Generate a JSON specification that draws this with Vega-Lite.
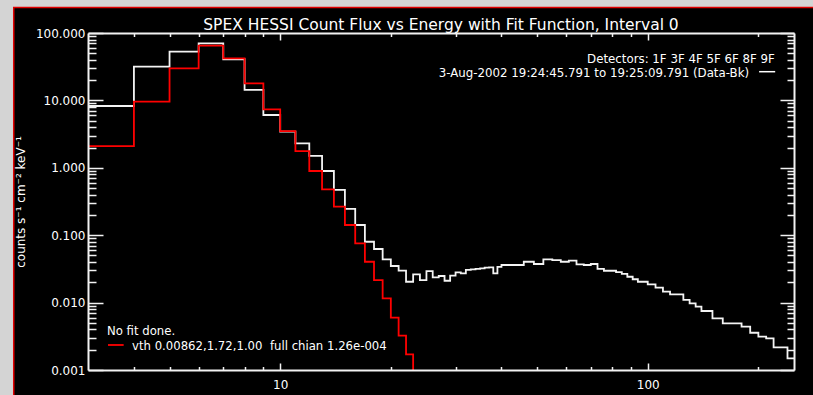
{
  "$schema": "https://vega.github.io/schema/vega-lite/v6.json",
  "width": 706,
  "height": 337,
  "autosize": {"type": "none"},
  "padding": {"left": 88, "top": 33, "right": 19, "bottom": 25},
  "background": "#d4d4d4",
  "config": {
    "view": {"stroke": null, "fill": "#000000"},
    "font": "DejaVu Sans",
    "axis": {
      "grid": false,
      "domainColor": "#f2f2f2",
      "domainWidth": 2,
      "tickColor": "#f2f2f2",
      "tickWidth": 1.5,
      "labelColor": "#ffffff",
      "labelFont": "DejaVu Sans",
      "labelFontSize": 12,
      "titleColor": "#ffffff",
      "titleFont": "DejaVu Sans",
      "titleFontWeight": "normal"
    }
  },
  "title": {
    "text": "SPEX HESSI Count Flux vs Energy with Fit Function, Interval 0",
    "color": "#ffffff",
    "font": "DejaVu Sans",
    "fontSize": 15.5,
    "fontWeight": "normal",
    "frame": "group",
    "anchor": "middle",
    "offset": -26.75,
    "zindex": 1
  },
  "datasets": {
    "counts": [
      {"E": 3, "flux": 8.26}, {"E": 4, "flux": 31.6}, {"E": 5, "flux": 52.8}, {"E": 6, "flux": 70.3},
      {"E": 7, "flux": 40.8}, {"E": 8, "flux": 14.3}, {"E": 9, "flux": 6.07}, {"E": 10, "flux": 3.45},
      {"E": 11, "flux": 2.31}, {"E": 12, "flux": 1.5}, {"E": 13, "flux": 0.896}, {"E": 14, "flux": 0.469},
      {"E": 15, "flux": 0.245}, {"E": 16, "flux": 0.1416}, {"E": 17, "flux": 0.08}, {"E": 18, "flux": 0.0624},
      {"E": 19, "flux": 0.0439}, {"E": 20, "flux": 0.0349}, {"E": 21, "flux": 0.0299}, {"E": 22, "flux": 0.0204},
      {"E": 23, "flux": 0.0263}, {"E": 24, "flux": 0.0216}, {"E": 25, "flux": 0.0294}, {"E": 26, "flux": 0.0237},
      {"E": 27, "flux": 0.0248}, {"E": 28, "flux": 0.0211}, {"E": 29, "flux": 0.0251}, {"E": 30, "flux": 0.0281},
      {"E": 31, "flux": 0.0272}, {"E": 32, "flux": 0.0305}, {"E": 33, "flux": 0.0312}, {"E": 34, "flux": 0.0316},
      {"E": 35, "flux": 0.0323}, {"E": 36, "flux": 0.033}, {"E": 37, "flux": 0.0334}, {"E": 38, "flux": 0.0272},
      {"E": 39, "flux": 0.034}, {"E": 40, "flux": 0.0361}, {"E": 43, "flux": 0.0361}, {"E": 46, "flux": 0.0404},
      {"E": 49, "flux": 0.0374}, {"E": 52, "flux": 0.0439}, {"E": 55, "flux": 0.0428}, {"E": 58, "flux": 0.0404},
      {"E": 61, "flux": 0.0419}, {"E": 64, "flux": 0.037}, {"E": 67, "flux": 0.0361}, {"E": 70, "flux": 0.0374},
      {"E": 73, "flux": 0.0316}, {"E": 76, "flux": 0.0297}, {"E": 79, "flux": 0.0297}, {"E": 82, "flux": 0.0284},
      {"E": 85, "flux": 0.0266}, {"E": 88, "flux": 0.0242}, {"E": 91, "flux": 0.0222}, {"E": 94, "flux": 0.0204},
      {"E": 97, "flux": 0.0204}, {"E": 100, "flux": 0.0187}, {"E": 105, "flux": 0.01665}, {"E": 110, "flux": 0.01451},
      {"E": 115, "flux": 0.01327}, {"E": 120, "flux": 0.01327}, {"E": 125, "flux": 0.01094}, {"E": 130, "flux": 0.00977},
      {"E": 135, "flux": 0.00869}, {"E": 140, "flux": 0.0075}, {"E": 150, "flux": 0.00585}, {"E": 160, "flux": 0.00493},
      {"E": 180, "flux": 0.00441}, {"E": 190, "flux": 0.00357}, {"E": 200, "flux": 0.00312}, {"E": 210, "flux": 0.00295},
      {"E": 220, "flux": 0.00217}, {"E": 240, "flux": 0.00149}, {"E": 250, "flux": 0.00149}
    ],
    "fit": [
      {"E": 2.5, "flux": 0.0001}, {"E": 3, "flux": 2.1}, {"E": 4, "flux": 9.57}, {"E": 5, "flux": 29.9},
      {"E": 6, "flux": 64.9}, {"E": 7, "flux": 42.1}, {"E": 8, "flux": 17.9}, {"E": 9, "flux": 7.38},
      {"E": 10, "flux": 3.51}, {"E": 11, "flux": 1.77}, {"E": 12, "flux": 0.896}, {"E": 13, "flux": 0.48},
      {"E": 14, "flux": 0.265}, {"E": 15, "flux": 0.1416}, {"E": 16, "flux": 0.0758}, {"E": 17, "flux": 0.0404},
      {"E": 18, "flux": 0.0216}, {"E": 19, "flux": 0.01156}, {"E": 20, "flux": 0.00597}, {"E": 21, "flux": 0.00323},
      {"E": 22, "flux": 0.001707}, {"E": 23, "flux": 0.0001}, {"E": 24, "flux": 0.0001}
    ],
    "one": [{}]
  },
  "layer": [
    {
      "data": {"name": "one"},
      "mark": {"type": "rect", "fill": "#000000", "stroke": "#e00000", "strokeWidth": 1.5},
      "encoding": {
        "x": {"datum": 1.884, "type": "quantitative", "scale": {"type": "log", "domain": [3, 250], "nice": false}, "axis": null},
        "x2": {"datum": 400},
        "y": {"datum": 238.9, "type": "quantitative", "scale": {"type": "log", "domain": [0.001, 100], "nice": false}, "axis": null},
        "y2": {"datum": 0.0001}
      }
    },
    {
      "data": {"name": "counts"},
      "mark": {"type": "line", "interpolate": "step-after", "stroke": "#f4f4f4", "strokeWidth": 1.8, "clip": true},
      "encoding": {
        "x": {
          "field": "E", "type": "quantitative",
          "scale": {"type": "log", "domain": [3, 250], "nice": false},
          "axis": {"orient": "bottom", "zindex": 1, "values": [10, 100], "format": "d", "ticks": false, "labelPadding": 9, "title": null}
        },
        "y": {
          "field": "flux", "type": "quantitative",
          "scale": {"type": "log", "domain": [0.001, 100], "nice": false},
          "axis": {"orient": "left", "zindex": 1, "values": [0.001, 0.01, 0.1, 1, 10, 100], "format": ".3f", "ticks": false, "labelPadding": 3, "title": "counts s⁻¹ cm⁻² keV⁻¹", "titleFontSize": 12, "titlePadding": 8}
        }
      }
    },
    {
      "data": {"name": "fit"},
      "mark": {"type": "line", "interpolate": "step-after", "stroke": "#ff0000", "strokeWidth": 1.8, "clip": true},
      "encoding": {
        "x": {
          "field": "E", "type": "quantitative",
          "scale": {"type": "log", "domain": [3, 250], "nice": false},
          "axis": {"orient": "bottom", "zindex": 1, "values": [4, 5, 6, 7, 8, 9, 10, 20, 30, 40, 50, 60, 70, 80, 90, 100, 200], "labels": false, "domain": false, "title": null,
                   "tickSize": {"condition": {"test": "datum.value === 10 || datum.value === 100", "value": -7}, "value": -3.5}}
        },
        "y": {
          "field": "flux", "type": "quantitative",
          "scale": {"type": "log", "domain": [0.001, 100], "nice": false},
          "axis": {"orient": "left", "zindex": 1, "values": [0.001, 0.002, 0.003, 0.004, 0.005, 0.006, 0.007, 0.008, 0.009, 0.01, 0.02, 0.03, 0.04, 0.05, 0.06, 0.07, 0.08, 0.09, 0.1, 0.2, 0.3, 0.4, 0.5, 0.6, 0.7, 0.8, 0.9, 1, 2, 3, 4, 5, 6, 7, 8, 9, 10, 20, 30, 40, 50, 60, 70, 80, 90, 100],
                   "labels": false, "domain": false, "title": null,
                   "tickSize": {"condition": {"test": "indexof([0.001, 0.01, 0.1, 1, 10, 100], datum.value) >= 0", "value": -15}, "value": -8}}
        }
      }
    },
    {
      "data": {"name": "one"},
      "mark": {"type": "text", "align": "right", "baseline": "middle", "color": "#ffffff", "font": "DejaVu Sans", "fontSize": 11.8},
      "encoding": {
        "text": {"value": "Detectors: 1F 3F 4F 5F 6F 8F 9F"},
        "x": {
          "datum": 221.8, "type": "quantitative",
          "scale": {"type": "log", "domain": [3, 250], "nice": false},
          "axis": {"orient": "top", "zindex": 1, "values": [4, 5, 6, 7, 8, 9, 10, 20, 30, 40, 50, 60, 70, 80, 90, 100, 200], "labels": false, "domain": true, "title": null,
                   "tickSize": {"condition": {"test": "datum.value === 10 || datum.value === 100", "value": -7}, "value": -3.5}}
        },
        "y": {
          "datum": 41.1, "type": "quantitative",
          "scale": {"type": "log", "domain": [0.001, 100], "nice": false},
          "axis": {"orient": "right", "zindex": 1, "values": [0.001, 0.002, 0.003, 0.004, 0.005, 0.006, 0.007, 0.008, 0.009, 0.01, 0.02, 0.03, 0.04, 0.05, 0.06, 0.07, 0.08, 0.09, 0.1, 0.2, 0.3, 0.4, 0.5, 0.6, 0.7, 0.8, 0.9, 1, 2, 3, 4, 5, 6, 7, 8, 9, 10, 20, 30, 40, 50, 60, 70, 80, 90, 100],
                   "labels": false, "domain": true, "title": null,
                   "tickSize": {"condition": {"test": "indexof([0.001, 0.01, 0.1, 1, 10, 100], datum.value) >= 0", "value": -14}, "value": -7}}
        }
      }
    },
    {
      "data": {"name": "one"},
      "mark": {"type": "text", "align": "right", "baseline": "middle", "color": "#ffffff", "font": "DejaVu Sans", "fontSize": 11.8},
      "encoding": {
        "text": {"value": "3-Aug-2002 19:24:45.791 to 19:25:09.791 (Data-Bk)"},
        "x": {"datum": 188.7, "type": "quantitative", "scale": {"type": "log", "domain": [3, 250], "nice": false}, "axis": null},
        "y": {"datum": 25.9, "type": "quantitative", "scale": {"type": "log", "domain": [0.001, 100], "nice": false}, "axis": null}
      }
    },
    {
      "data": {"name": "one"},
      "mark": {"type": "rule", "color": "#ffffff", "strokeWidth": 1.5},
      "encoding": {
        "x": {"datum": 200.9, "type": "quantitative", "scale": {"type": "log", "domain": [3, 250], "nice": false}, "axis": null},
        "x2": {"datum": 222.2},
        "y": {"datum": 26.66, "type": "quantitative", "scale": {"type": "log", "domain": [0.001, 100], "nice": false}, "axis": null}
      }
    },
    {
      "data": {"name": "one"},
      "mark": {"type": "text", "align": "left", "baseline": "middle", "color": "#ffffff", "font": "DejaVu Sans", "fontSize": 11.7},
      "encoding": {
        "text": {"value": "No fit done."},
        "x": {"datum": 3.378, "type": "quantitative", "scale": {"type": "log", "domain": [3, 250], "nice": false}, "axis": null},
        "y": {"datum": 0.00379, "type": "quantitative", "scale": {"type": "log", "domain": [0.001, 100], "nice": false}, "axis": null}
      }
    },
    {
      "data": {"name": "one"},
      "mark": {"type": "text", "align": "left", "baseline": "middle", "color": "#ffffff", "font": "DejaVu Sans", "fontSize": 11.7},
      "encoding": {
        "text": {"value": "vth 0.00862,1.72,1.00\u00a0 full chian 1.26e-004"},
        "x": {"datum": 3.953, "type": "quantitative", "scale": {"type": "log", "domain": [3, 250], "nice": false}, "axis": null},
        "y": {"datum": 0.00227, "type": "quantitative", "scale": {"type": "log", "domain": [0.001, 100], "nice": false}, "axis": null}
      }
    },
    {
      "data": {"name": "one"},
      "mark": {"type": "rule", "color": "#ff0000", "strokeWidth": 1.8},
      "encoding": {
        "x": {"datum": 3.4, "type": "quantitative", "scale": {"type": "log", "domain": [3, 250], "nice": false}, "axis": null},
        "x2": {"datum": 3.751},
        "y": {"datum": 0.00235, "type": "quantitative", "scale": {"type": "log", "domain": [0.001, 100], "nice": false}, "axis": null}
      }
    }
  ],
  "resolve": {"axis": {"x": "independent", "y": "independent"}}
}
